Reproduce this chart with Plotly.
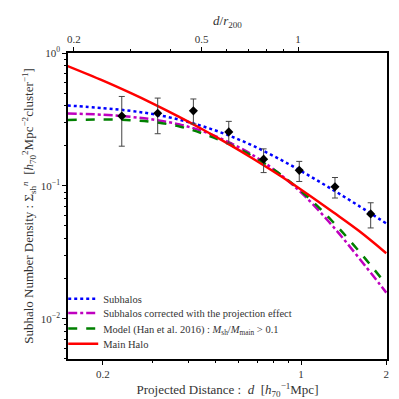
import plotly.graph_objects as go

## Data ##
pt_d = [0.233, 0.312, 0.417, 0.556, 0.738, 0.986, 1.318, 1.762]
pt_n = [0.336, 0.352, 0.367, 0.255, 0.159, 0.131, 0.0986, 0.0616]
pt_hi = [0.471, 0.458, 0.451, 0.306, 0.190, 0.153, 0.1157, 0.0747]
pt_lo = [0.199, 0.247, 0.293, 0.210, 0.126, 0.108, 0.0811, 0.0483]

curve_d = [0.15, 0.2, 0.25, 0.3, 0.37, 0.45, 0.55, 0.68, 0.85, 1.05, 1.3, 1.6, 2.0]
sub_n = [0.403, 0.385, 0.367, 0.347, 0.316, 0.281, 0.242, 0.1995, 0.157, 0.122, 0.0931, 0.0708, 0.0522]
corr_n = [0.351, 0.343, 0.331, 0.316, 0.291, 0.2576, 0.2158, 0.169, 0.1208, 0.0807, 0.0493, 0.0288, 0.01574]
model_n = [0.313, 0.316, 0.3126, 0.3027, 0.281, 0.2477, 0.2089, 0.1656, 0.1211, 0.0836, 0.0533, 0.0324, 0.01815]
main_n = [0.797, 0.619, 0.5005, 0.4163, 0.3322, 0.2658, 0.2087, 0.1594, 0.1181, 0.0874, 0.0634, 0.0460, 0.0312]

top_ticks = [0.2, 0.5, 1]
bottom_ticks = [0.2, 1, 2]

err_plus = [h - n for h, n in zip(pt_hi, pt_n)]
err_minus = [n - l for l, n in zip(pt_lo, pt_n)]

FONT = "Liberation Serif, DejaVu Serif, serif"
TXT = "#333333"

fig = go.Figure()
fig.add_trace(go.Scatter(x=curve_d, y=sub_n, mode="lines", line_shape="spline",
                         name="Subhalos", legend="legend",
                         line=dict(color="#0000ff", width=2.5, dash="dot")))
fig.add_trace(go.Scatter(x=curve_d, y=corr_n, mode="lines", line_shape="spline",
                         name="Subhalos corrected with the projection effect", legend="legend2",
                         line=dict(color="#bf00bf", width=2.5, dash="dashdot")))
fig.add_trace(go.Scatter(x=curve_d, y=model_n, mode="lines", line_shape="spline",
                         name="Model (Han et al. 2016) : <i>M</i><sub>sh</sub>/<i>M</i><sub>main</sub> > 0.1",
                         legend="legend3",
                         line=dict(color="#008000", width=2.5, dash="dash")))
fig.add_trace(go.Scatter(x=curve_d, y=main_n, mode="lines", line_shape="spline",
                         name="Main Halo", legend="legend4",
                         line=dict(color="#ff0000", width=2.5)))
fig.add_trace(go.Scatter(x=pt_d, y=pt_n, mode="markers", showlegend=False,
                         marker=dict(symbol="diamond", color="black", size=7),
                         error_y=dict(type="data", symmetric=False, array=err_plus,
                                      arrayminus=err_minus, color="#444444",
                                      thickness=1, width=3)))
# dummy trace so the top axis gets drawn
fig.add_trace(go.Scatter(x=[0.2, 1], y=[None, None], xaxis="x2", showlegend=False,
                         hoverinfo="skip"))

leg = dict(x=-0.015, xanchor="left", yanchor="middle", bgcolor="rgba(0,0,0,0)",
           font=dict(size=10.5, color=TXT), itemwidth=30)

fig.update_layout(
    width=399, height=399,
    margin=dict(l=60, r=20, t=39, b=40),
    paper_bgcolor="white", plot_bgcolor="white",
    font=dict(family=FONT, color=TXT, size=11),
    showlegend=True,
    legend=dict(leg, y=0.197),
    legend2=dict(leg, y=0.150),
    legend3=dict(leg, y=0.100),
    legend4=dict(leg, y=0.050),
    xaxis=dict(type="log", range=[-0.8225, 0.3036],
               tickvals=bottom_ticks, ticktext=[str(t) for t in bottom_ticks],
               ticks="outside", ticklen=4, tickcolor="black",
               minor=dict(tickvals=[0.3, 0.4, 0.5, 0.6, 0.7, 0.8, 0.9],
                          ticks="outside", ticklen=2, tickcolor="black"),
               showline=True, linecolor="black", linewidth=1.5,
               showgrid=False, zeroline=False,
               tickfont=dict(size=11),
               title=dict(text="Projected Distance :  <i>d</i>  [<i>h</i><sub>70</sub><sup>−1</sup>Mpc]",
                          font=dict(size=13), standoff=6)),
    xaxis2=dict(type="log", overlaying="x", side="top", range=[-0.7176, 0.2777],
                tickvals=top_ticks, ticktext=[str(t) for t in top_ticks],
                ticks="outside", ticklen=4, tickcolor="black",
                minor=dict(tickvals=[0.3, 0.4, 0.6, 0.7, 0.8, 0.9],
                           ticks="outside", ticklen=2, tickcolor="black"),
                showline=True, linecolor="black", linewidth=1.5,
                showgrid=False, zeroline=False,
                tickfont=dict(size=11),
                title=dict(text="<i>d</i>/<i>r</i><sub>200</sub>", font=dict(size=13), standoff=4)),
    yaxis=dict(type="log", range=[-2.302, 0.0],
               tickvals=[0.01, 0.1, 1],
               ticktext=["10<sup>−2</sup>", "10<sup>−1</sup>", "10<sup>0</sup>"],
               ticks="outside", ticklen=4, tickcolor="black",
               minor=dict(tickvals=[0.005, 0.006, 0.007, 0.008, 0.009,
                                    0.02, 0.03, 0.04, 0.05, 0.06, 0.07, 0.08, 0.09,
                                    0.2, 0.3, 0.4, 0.5, 0.6, 0.7, 0.8, 0.9],
                          ticks="outside", ticklen=2, tickcolor="black"),
               showline=True, linecolor="black", linewidth=1.5, mirror=True,
               showgrid=False, zeroline=False,
               tickfont=dict(size=11),
               title=dict(text="Subhalo Number Density : Σ<sub>sh</sub><sup><i>n</i></sup>  [<i>h</i><sub>70</sub><sup>2</sup>Mpc<sup>−2</sup>cluster<sup>−1</sup>]",
                          font=dict(size=13), standoff=4)),
)

fig.write_html("out.html")
